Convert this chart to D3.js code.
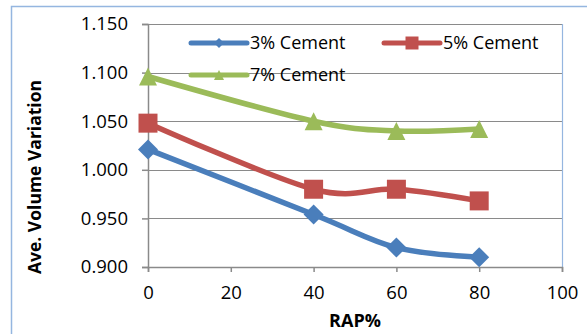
<!DOCTYPE html>
<html>
<head>
<meta charset="utf-8">
<script src="https://cdn.jsdelivr.net/npm/d3@7"></script>
<style>
  html, body { margin: 0; padding: 0; background: #fff; }
  svg { display: block; font-family: "Open Sans", sans-serif; }
</style>
</head>
<body>
<div id="chart"></div>
<script>
// data
const rap = [0, 40, 60, 80];
const cement3 = [1.021, 0.954, 0.920, 0.910];
const cement5 = [1.048, 0.980, 0.980, 0.968];
const cement7 = [1.096, 1.050, 1.040, 1.042];
const seriesNames = ["3% Cement", "5% Cement", "7% Cement"];
const xTicks = [0, 20, 40, 60, 80, 100];
const yTicks = [0.900, 0.950, 1.000, 1.050, 1.100, 1.150];

const width = 587, height = 334;
const margin = { top: 24, right: 25, bottom: 67, left: 148 };

const svg = d3.select("#chart").append("svg")
  .attr("width", width)
  .attr("height", height);

// outer chart frame (cropped on right/bottom)
svg.append("rect")
  .attr("x", 11.5).attr("y", 6.5)
  .attr("width", 620).attr("height", 360)
  .attr("fill", "none")
  .attr("stroke", "#95b6e0")
  .attr("stroke-width", 1.5);

const x = d3.scaleLinear().domain([0, 100]).range([margin.left, width - margin.right]);
const y = d3.scaleLinear().domain([0.9, 1.15]).range([height - margin.bottom, margin.top]);

// gridlines
svg.append("g")
  .selectAll("line")
  .data(yTicks)
  .join("line")
  .attr("x1", x(0)).attr("x2", x(100))
  .attr("y1", d => Math.round(y(d)) + 0.5).attr("y2", d => Math.round(y(d)) + 0.5)
  .attr("stroke", "#8a8a8a")
  .attr("stroke-width", 1.2);

// right border of plot area
svg.append("line")
  .attr("x1", x(100) + 0.5).attr("x2", x(100) + 0.5)
  .attr("y1", y(1.15)).attr("y2", y(0.9))
  .attr("stroke", "#95b6e0")
  .attr("stroke-width", 1.2);

// axes
const yAxis = d3.axisLeft(y).tickValues(yTicks).tickFormat(d3.format(".3f")).tickSize(6).tickPadding(14);
const xAxis = d3.axisBottom(x).tickValues(xTicks).tickSize(5).tickPadding(14);

const gy = svg.append("g")
  .attr("transform", `translate(${x(0)},0)`)
  .call(yAxis);
const gx = svg.append("g")
  .attr("transform", `translate(0,${y(0.9)})`)
  .call(xAxis);

[gx, gy].forEach(g => {
  g.select(".domain").attr("stroke", "#8a8a8a").attr("stroke-width", 1.5);
  g.selectAll(".tick line").attr("stroke", "#8a8a8a").attr("stroke-width", 1.5);
  g.selectAll(".tick text")
    .attr("fill", "#000")
    .style("font-size", "18.5px")
    .style("font-family", "'Open Sans', sans-serif");
});

// axis titles
svg.append("text")
  .attr("x", x(50)).attr("y", 327)
  .attr("text-anchor", "middle")
  .style("font-size", "18px")
  .style("font-weight", "bold")
  .text("RAP%");

svg.append("text")
  .attr("transform", `translate(41,${177}) rotate(-90)`)
  .attr("text-anchor", "middle")
  .style("font-size", "17.5px")
  .style("font-weight", "bold")
  .text("Ave. Volume Variation");

// marker shapes
function markerPath(type, s) {
  const p = d3.path();
  if (type === "diamond") {
    p.moveTo(0, -s); p.lineTo(s, 0); p.lineTo(0, s); p.lineTo(-s, 0); p.closePath();
  } else if (type === "square") {
    p.rect(-s, -s, 2 * s, 2 * s);
  } else {
    p.moveTo(0, -s); p.lineTo(s, s); p.lineTo(-s, s); p.closePath();
  }
  return p.toString();
}

const series = [
  { name: seriesNames[0], values: cement3, color: "#4a7ebb", marker: "diamond", size: 10, legendSize: 5 },
  { name: seriesNames[1], values: cement5, color: "#c0504d", marker: "square", size: 9.5, legendSize: 6.5 },
  { name: seriesNames[2], values: cement7, color: "#9bbb59", marker: "triangle", size: 9, legendSize: 5 }
];

const line = d3.line()
  .x((d, i) => x(rap[i]))
  .y(d => y(d))
  .curve(d3.curveCardinal.tension(0));

series.forEach(s => {
  svg.append("path")
    .datum(s.values)
    .attr("d", line)
    .attr("fill", "none")
    .attr("stroke", s.color)
    .attr("stroke-width", 5.5)
    .attr("stroke-linejoin", "round");

  svg.append("g")
    .selectAll("path")
    .data(s.values)
    .join("path")
    .attr("transform", (d, i) => `translate(${x(rap[i])},${y(d)})`)
    .attr("d", markerPath(s.marker, s.size))
    .attr("fill", s.color);
});

// legend
const legendPos = [
  { lx: 191, ly: 43 },
  { lx: 384, ly: 43 },
  { lx: 191, ly: 75 }
];

const legend = svg.append("g")
  .selectAll("g")
  .data(series)
  .join("g")
  .attr("transform", (d, i) => `translate(${legendPos[i].lx},${legendPos[i].ly})`);

legend.append("line")
  .attr("x1", 0).attr("x2", 56)
  .attr("stroke", d => d.color)
  .attr("stroke-width", 5)
  .attr("stroke-linecap", "round");

legend.append("path")
  .attr("transform", "translate(28,0)")
  .attr("d", d => markerPath(d.marker, d.legendSize))
  .attr("fill", d => d.color);

legend.append("text")
  .attr("x", 59)
  .attr("dy", "0.35em")
  .style("font-size", "18px")
  .text(d => d.name);
</script>
</body>
</html>
